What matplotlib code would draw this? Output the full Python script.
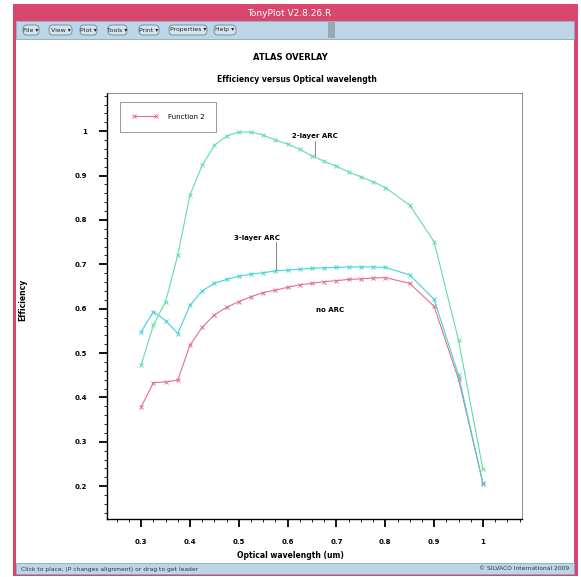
import matplotlib
matplotlib.use("Agg")
import matplotlib.pyplot as plt
from matplotlib.patches import Rectangle, FancyBboxPatch
from matplotlib.ticker import MultipleLocator

plt.rcParams['font.family'] = ['Liberation Sans Narrow', 'DejaVu Sans']

# Data
wavelength = [0.3, 0.325, 0.35, 0.375, 0.4, 0.425, 0.45, 0.475, 0.5, 0.525,
              0.55, 0.575, 0.6, 0.625, 0.65, 0.675, 0.7, 0.725, 0.75, 0.775,
              0.8, 0.85, 0.9, 0.95, 1.0]
no_arc = [0.379, 0.433, 0.435, 0.439, 0.518, 0.558, 0.586, 0.603, 0.616, 0.627,
          0.636, 0.642, 0.648, 0.654, 0.657, 0.661, 0.663, 0.666, 0.667, 0.669,
          0.670, 0.657, 0.605, 0.441, 0.207]
three_layer = [0.548, 0.593, 0.573, 0.544, 0.608, 0.640, 0.657, 0.666, 0.673, 0.678,
               0.681, 0.685, 0.687, 0.689, 0.691, 0.692, 0.693, 0.694, 0.694, 0.694,
               0.693, 0.676, 0.621, 0.450, 0.205]
two_layer = [0.473, 0.563, 0.616, 0.721, 0.856, 0.923, 0.968, 0.989, 0.998, 0.998,
             0.991, 0.980, 0.971, 0.959, 0.944, 0.932, 0.921, 0.908, 0.897, 0.886,
             0.873, 0.833, 0.751, 0.529, 0.238]

menu_items = ["File", "View", "Plot", "Tools", "Print", "Properties", "Help"]
menu_x = [(23, 39), (49, 72), (80, 97), (108, 127), (139, 159), (169, 207), (214, 236)]

PINK = "#e36f8e"
CYAN = "#43d3d9"
GREEN = "#62dea6"

W, H = 581, 577
fig = plt.figure(figsize=(W / 100, H / 100), dpi=100)
fig.patch.set_facecolor("white")

# window chrome drawn in pixel coordinates
bg = fig.add_axes([0, 0, 1, 1])
bg.set_xlim(0, W)
bg.set_ylim(H, 0)
bg.axis("off")

frame_col = "#d9476f"
bg.add_patch(Rectangle((13, 4), 565, 572, facecolor=frame_col, edgecolor="none"))
bg.add_patch(Rectangle((16, 21), 558, 552, facecolor="white", edgecolor="none"))
bg.add_patch(Rectangle((16, 21), 558, 18, facecolor="#bcd6e8", edgecolor="#8aa8bc", lw=0.6))
bg.add_patch(Rectangle((328, 22), 7, 16, facecolor="#9aa8b2", edgecolor="none"))
bg.add_patch(Rectangle((16, 563), 558, 11, facecolor="#bcd6e8", edgecolor="#8aa8bc", lw=0.6))
bg.text(289, 13, "TonyPlot V2.8.26.R", color="white", fontsize=6.5,
        ha="center", va="center")

for name, (x0, x1) in zip(menu_items, menu_x):
    bg.add_patch(FancyBboxPatch((x0, 25), x1 - x0, 10,
                                boxstyle="round,pad=0,rounding_size=4",
                                facecolor="#d4e4ee", edgecolor="#6f8596", lw=0.6))
    bg.text((x0 + x1) / 2, 30, name + " \u25be", fontsize=4.4, ha="center",
            va="center", color="#222222")

bg.text(21, 569, "Click to place, (P changes alignment) or drag to get leader",
        fontsize=4.3, ha="left", va="center", color="#333333")
bg.text(569, 569, "\u00a9 SILVACO International 2009", fontsize=4.3,
        ha="right", va="center", color="#333333")

bg.text(290, 58, "ATLAS OVERLAY", fontsize=6, fontweight="bold",
        ha="center", va="center")
bg.text(297, 80, "Efficiency versus Optical wavelength", fontsize=5.5,
        fontweight="bold", ha="center", va="center")
bg.text(290, 555, "Optical wavelength (um)", fontsize=5.5, fontweight="bold",
        ha="center", va="center")
bg.text(23, 300, "Efficiency", fontsize=5.5, fontweight="bold", rotation=90,
        ha="center", va="center")

# plot area
left, right, top, bottom = 107, 522, 93, 519
ax = fig.add_axes([left / W, 1 - bottom / H, (right - left) / W, (bottom - top) / H])
ax.set_xlim(0.230, 1.080)
ax.set_ylim(0.126, 1.086)

line_kw = dict(lw=0.8, marker="x", ms=3, mew=0.7)
l_no, = ax.plot(wavelength, no_arc, color=PINK, **line_kw)
ax.plot(wavelength, three_layer, color=CYAN, **line_kw)
ax.plot(wavelength, two_layer, color=GREEN, **line_kw)

ax.xaxis.set_minor_locator(MultipleLocator(0.025))
ax.yaxis.set_minor_locator(MultipleLocator(0.02))
ax.set_xticks([0.3, 0.4, 0.5, 0.6, 0.7, 0.8, 0.9, 1.0])
ax.set_xticklabels(["0.3", "0.4", "0.5", "0.6", "0.7", "0.8", "0.9", "1"])
ax.set_yticks([0.2, 0.3, 0.4, 0.5, 0.6, 0.7, 0.8, 0.9, 1.0])
ax.set_yticklabels(["0.2", "0.3", "0.4", "0.5", "0.6", "0.7", "0.8", "0.9", "1"])
ax.tick_params(which="major", direction="out", length=5.5, width=1.3, labelsize=5,
               pad=9)
ax.tick_params(which="minor", direction="out", length=2.5, width=0.6)
for lab in ax.get_xticklabels() + ax.get_yticklabels():
    lab.set_fontweight("bold")

for s in ["left", "bottom"]:
    ax.spines[s].set_linewidth(1.0)
for s in ["top", "right"]:
    ax.spines[s].set_linewidth(0.6)
    ax.spines[s].set_color("#777777")

leg = ax.legend([l_no], ["Function 2"], loc="upper left",
                bbox_to_anchor=(0.031, 0.979), borderaxespad=0, fontsize=5,
                numpoints=2, handlelength=3.8, handletextpad=1.4, borderpad=1.7,
                fancybox=False, framealpha=1, edgecolor="#888888")
leg.get_frame().set_linewidth(0.6)

ann_kw = dict(fontsize=5, fontweight="bold", ha="center", va="center")
ax.text(0.656, 0.989, "2-layer ARC", **ann_kw)
ax.plot([0.656, 0.656], [0.978, 0.943], color="#555555", lw=0.5)
ax.text(0.537, 0.759, "3-layer ARC", **ann_kw)
ax.plot([0.576, 0.576], [0.750, 0.688], color="#555555", lw=0.5)
ax.text(0.687, 0.597, "no ARC", **ann_kw)

fig.savefig("out.png", dpi=100)
